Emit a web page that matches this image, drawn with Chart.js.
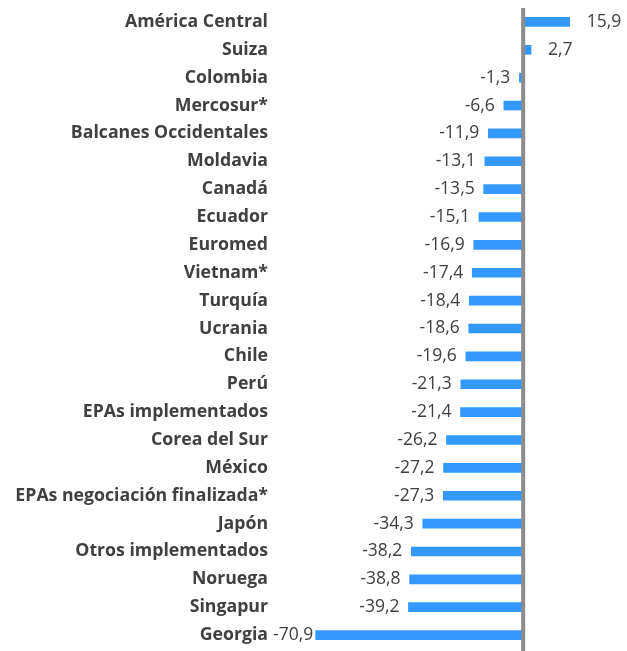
<!DOCTYPE html>
<html>
<head>
<meta charset="utf-8">
<script src="https://cdn.jsdelivr.net/npm/chart.js@4/dist/chart.umd.min.js"></script>
<style>
  body { margin: 0; background: #fff; }
  canvas { display: block; }
</style>
</head>
<body>
<canvas id="chart" width="627" height="651"></canvas>
<script>
// datos
const categorias = ['América Central', 'Suiza', 'Colombia', 'Mercosur*', 'Balcanes Occidentales',
  'Moldavia', 'Canadá', 'Ecuador', 'Euromed', 'Vietnam*', 'Turquía', 'Ucrania', 'Chile', 'Perú',
  'EPAs implementados', 'Corea del Sur', 'México', 'EPAs negociación finalizada*', 'Japón',
  'Otros implementados', 'Noruega', 'Singapur', 'Georgia'];
const valores = [15.9, 2.7, -1.3, -6.6, -11.9, -13.1, -13.5, -15.1, -16.9, -17.4, -18.4, -18.6,
  -19.6, -21.3, -21.4, -26.2, -27.2, -27.3, -34.3, -38.2, -38.8, -39.2, -70.9];

const fuente = '"Open Sans", sans-serif';

// etiquetas de valor y línea del cero
const etiquetas = {
  id: 'etiquetas',
  afterDatasetsDraw(chart) {
    const ctx = chart.ctx;
    const x = chart.scales.x;
    const meta = chart.getDatasetMeta(0);
    const cero = x.getPixelForValue(0);
    ctx.save();
    ctx.fillStyle = '#8c8c8c';
    ctx.fillRect(cero - 2, chart.chartArea.top, 4, chart.height - chart.chartArea.top);
    ctx.font = '17.5px ' + fuente;
    ctx.fillStyle = '#404040';
    ctx.textBaseline = 'middle';
    meta.data.forEach((bar, i) => {
      const v = valores[i];
      const txt = v.toFixed(1).replace('.', ',');
      if (v >= 0) {
        ctx.textAlign = 'left';
        ctx.fillText(txt, bar.x + 17, bar.y);
      } else {
        const w = ctx.measureText(txt).width;
        ctx.textAlign = 'right';
        ctx.fillText(txt, Math.max(bar.x - 9, 273 + w), bar.y);
      }
    });
    ctx.restore();
  }
};

new Chart(document.getElementById('chart'), {
  type: 'bar',
  data: {
    labels: categorias,
    datasets: [{
      data: valores,
      backgroundColor: '#3399ff',
      barThickness: 9
    }]
  },
  options: {
    indexAxis: 'y',
    responsive: false,
    animation: false,
    layout: { padding: { top: 8, bottom: 2, right: 16, left: 0 } },
    plugins: { legend: { display: false }, tooltip: { enabled: false } },
    scales: {
      x: { display: false, min: -80, max: 30 },
      y: {
        grid: { display: false, drawTicks: false },
        border: { display: false },
        ticks: { padding: 21, color: '#404040', font: { family: fuente, size: 17.7, weight: 'bold' } },
        afterFit(s) { s.width = 289; s.paddingTop = 0; s.paddingBottom = 0; }
      }
    }
  },
  plugins: [etiquetas]
});
</script>
</body>
</html>
